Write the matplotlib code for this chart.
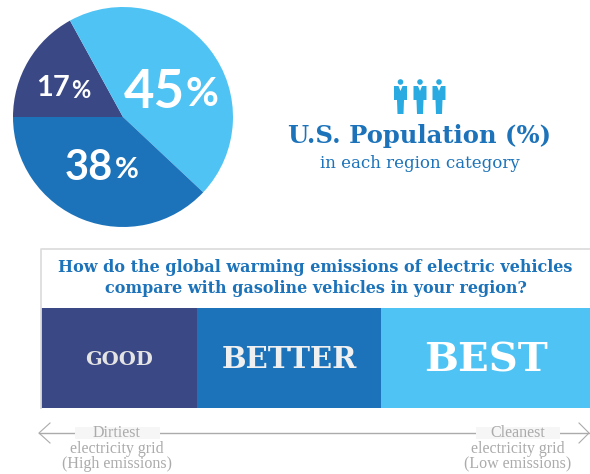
import matplotlib
matplotlib.use('Agg')
import matplotlib.pyplot as plt
from matplotlib.patches import Circle, Polygon, Rectangle

# Population share per region category
shares = [17, 45, 38]
share_labels = ['17%', '45%', '38%']

# Bottom band
categories = ['GOOD', 'BETTER', 'BEST']
band_widths = [156, 184, 209]

title = 'U.S. Population (%)'
subtitle = 'in each region category'
question = ['How do the global warming emissions of electric vehicles',
            'compare with gasoline vehicles in your region?']
left_label = ['Dirtiest', 'electricity grid', '(High emissions)']
right_label = ['Cleanest', 'electricity grid', '(Low emissions)']

DARK = '#3A4885'
MID = '#1C73BA'
LIGHT = '#4FC3F4'
ICON = '#29ABE2'
GREY = '#ABABAB'
SLAB = ['DejaVu Serif']

W, H = 590, 474
fig = plt.figure(figsize=(W / 100, H / 100), dpi=100)

# main layer in pixel coordinates, y going down
ax = fig.add_axes([0, 0, 1, 1])
ax.set_xlim(0, W)
ax.set_ylim(H, 0)
ax.axis('off')

# ---------- PIE ----------
ax_pie = fig.add_axes([13 / W, (H - 227) / H, 220 / W, 220 / H])
ax_pie.pie(shares, colors=[DARK, LIGHT, MID], startangle=180,
           counterclock=False, radius=1)
ax_pie.set_xlim(-1, 1)
ax_pie.set_ylim(-1, 1)


def pct_label(x, y, label, size_num, size_pct, gap):
    # big number followed by a smaller percent sign
    ax_pie.text(x, y, label[:-1], ha='right', va='center', color='white',
                fontsize=size_num, fontweight='bold', family='Lato')
    ax_pie.text(x + gap, y - 0.02, '%', ha='left', va='center', color='white',
                fontsize=size_pct, fontweight='bold', family='Lato')


pct_label(-0.48, 0.26, share_labels[0], 21, 17, 0.01)
pct_label(0.56, 0.22, share_labels[1], 38, 29, 0.01)
pct_label(-0.09, -0.46, share_labels[2], 30, 21, 0.02)

# ---------- PEOPLE ICONS ----------
person = [(-6.5, 4), (6.5, 4), (6.5, 18), (3.5, 18), (3, 32), (-3, 32),
          (-3.5, 18), (-6.5, 18)]
tie = [(-2, 4), (2, 4), (0, 9)]
for cx in (400.5, 420, 439):
    ax.add_patch(Circle((cx, 82), 2.8, color=ICON, lw=0))
    ax.add_patch(Polygon([(cx + a, 82 + b) for a, b in person], color=ICON, lw=0))
    ax.add_patch(Polygon([(cx + a, 82 + b) for a, b in tie], color='white', lw=0))

ax.text(420, 135.5, title, ha='center', va='center', color=MID, fontsize=17.5,
        fontweight='bold', family=SLAB)
ax.text(420, 164, subtitle, ha='center', va='center', color=MID, fontsize=12,
        family=SLAB)

# ---------- QUESTION BOX AND BAND ----------
ax.plot([W, 41, 41], [248.5, 248.5, 408], color='#DDDDDD', lw=1.3)
ax.text(315, 267, question[0], ha='center', va='center', color=MID,
        fontsize=11.5, fontweight='bold', family=SLAB)
ax.text(316, 288.5, question[1], ha='center', va='center', color=MID,
        fontsize=11.5, fontweight='bold', family=SLAB)

band_colors = [DARK, MID, LIGHT]
band_sizes = [14, 21, 29]
band_text = ['#E4E4E4', '#F0F0F0', 'white']
left = 41
for name, width, col, size, tcol in zip(categories, band_widths, band_colors,
                                        band_sizes, band_text):
    ax.barh(358, width, height=100, left=left, color=col, lw=0)
    ax.text(left + width / 2, 360, name, ha='center', va='center', color=tcol,
            fontsize=size, fontweight='bold', family=SLAB)
    left += width

# ---------- BOTTOM ARROW ----------
ax.plot([39, 589], [433, 433], color=GREY, lw=1)
ax.plot([50, 39, 50], [423, 433, 443], color=GREY, lw=0.8)
ax.plot([579, 589, 579], [423, 433, 443], color=GREY, lw=0.8)
ax.add_patch(Rectangle((75, 427), 85, 12, color='#F6F6F6', lw=0, zorder=3))
ax.add_patch(Rectangle((476, 427), 84, 12, color='#F6F6F6', lw=0, zorder=3))
for cx, lines in ((117, left_label), (518, right_label)):
    for y, line in zip((433, 449, 464), lines):
        ax.text(cx, y, line, ha='center', va='center', color=GREY, fontsize=11.5,
                family='Liberation Serif', zorder=4)

fig.savefig('out.png', dpi=100)
